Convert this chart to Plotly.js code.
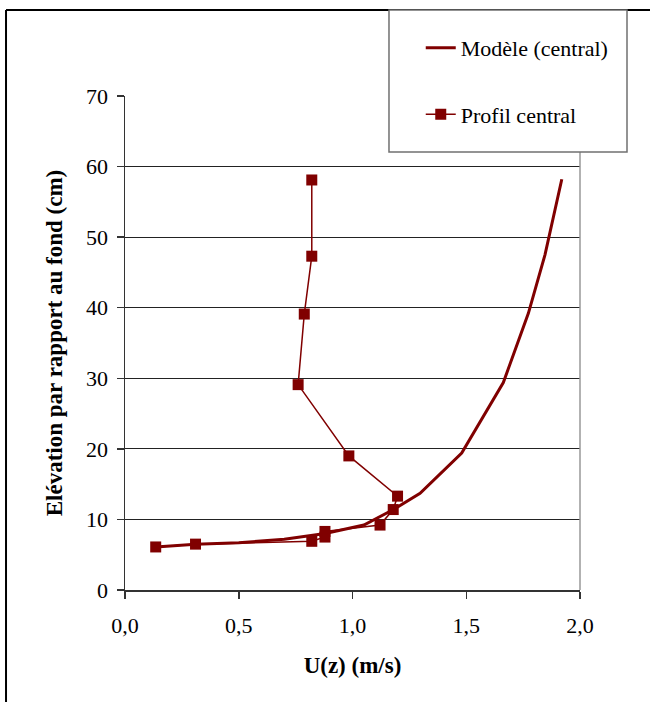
<!DOCTYPE html>
<html>
<head>
<meta charset="utf-8">
<script src="https://cdn.plot.ly/plotly-3.0.1.min.js"></script>
<style>
html,body{margin:0;padding:0;background:#fff;}
#chart{width:650px;height:702px;}
</style>
</head>
<body>
<div id="chart"></div>
<script>
// Model curve (central)
var modelU = [0.135, 0.31, 0.5, 0.7, 0.88, 1.05, 1.18, 1.297, 1.48, 1.663, 1.773, 1.846, 1.92];
var modelZ = [6.1, 6.5, 6.7, 7.2, 8.0, 9.2, 11.4, 13.7, 19.4, 29.4, 39.2, 47.5, 58.2];
// Measured central profile
var profilU = [0.821, 0.821, 0.788, 0.761, 0.984, 1.198, 1.179, 1.121, 0.879, 0.879, 0.821, 0.31, 0.135];
var profilZ = [58.1, 47.3, 39.1, 29.1, 19.0, 13.3, 11.4, 9.2, 8.3, 7.5, 6.9, 6.5, 6.1];
var seriesNames = ["Modèle (central)", "Profil central"];
var xTitle = "U(z) (m/s)";
var yTitle = "Elévation par rapport au fond (cm)";

var red = "#800000";
var serif = "'Liberation Serif', 'Times New Roman', serif";

var traces = [
  {x: modelU, y: modelZ, name: seriesNames[0], mode: "lines", legendgroup: "a",
   line: {color: red, width: 3}},
  {x: profilU, y: profilZ, name: seriesNames[1], mode: "lines+markers", legendgroup: "b",
   line: {color: red, width: 1.5},
   marker: {symbol: "square", size: 11, color: red}}
];

var layout = {
  width: 650, height: 702,
  margin: {l: 125, r: 70, t: 96, b: 112},
  paper_bgcolor: "#fff", plot_bgcolor: "#fff",
  separators: ", ",
  font: {family: serif, size: 22, color: "#000"},
  showlegend: true,
  legend: {x: 0.650, xanchor: "left", y: 1.14, yanchor: "top",
           bgcolor: "rgba(0,0,0,0)", borderwidth: 0,
           traceorder: "grouped", tracegroupgap: 35,
           font: {family: serif, size: 22, color: "#000"}},
  xaxis: {range: [0, 2], dtick: 0.5, tick0: 0, tickformat: ".1f",
          showgrid: false, zeroline: false, showline: true, linecolor: "#333", linewidth: 1.5,
          ticks: "outside", ticklen: 7, tickcolor: "#333", tickwidth: 1.5,
          ticklabelstandoff: 8,
          tickfont: {family: serif, size: 22, color: "#000"},
          title: {text: "<b>" + xTitle + "</b>", font: {family: serif, size: 23, color: "#000"}, standoff: 20},
          fixedrange: true},
  yaxis: {range: [0, 70], dtick: 10, tick0: 0,
          showgrid: true, gridcolor: "#222", gridwidth: 1, zeroline: false,
          showline: true, linecolor: "#333", linewidth: 1.5,
          ticks: "outside", ticklen: 7, tickcolor: "#333", tickwidth: 1.5,
          ticklabelstandoff: 4,
          tickfont: {family: serif, size: 22, color: "#000"},
          title: {text: "<b>" + yTitle + "</b>", font: {family: serif, size: 23, color: "#000"}, standoff: 17},
          fixedrange: true},
  shapes: [
    {type: "line", xref: "paper", yref: "paper", x0: 1, x1: 1, y0: 0, y1: 1,
     line: {color: "#999", width: 1.5}},
    {type: "line", xref: "paper", yref: "paper", x0: -0.2615, x1: 1.2, y0: 1.1741, y1: 1.1741,
     line: {color: "#000", width: 2}},
    {type: "line", xref: "paper", yref: "paper", x0: -0.2615, x1: -0.2615, y0: 1.1741, y1: -0.3,
     line: {color: "#000", width: 2}},
    {type: "rect", xref: "paper", yref: "paper", x0: 0.5802, x1: 1.1033, y0: 0.8866, y1: 1.1741,
     fillcolor: "#fff", line: {color: "#707070", width: 1.5}, layer: "above"}
  ]
};

Plotly.newPlot("chart", traces, layout, {displayModeBar: false, staticPlot: true});
</script>
</body>
</html>
